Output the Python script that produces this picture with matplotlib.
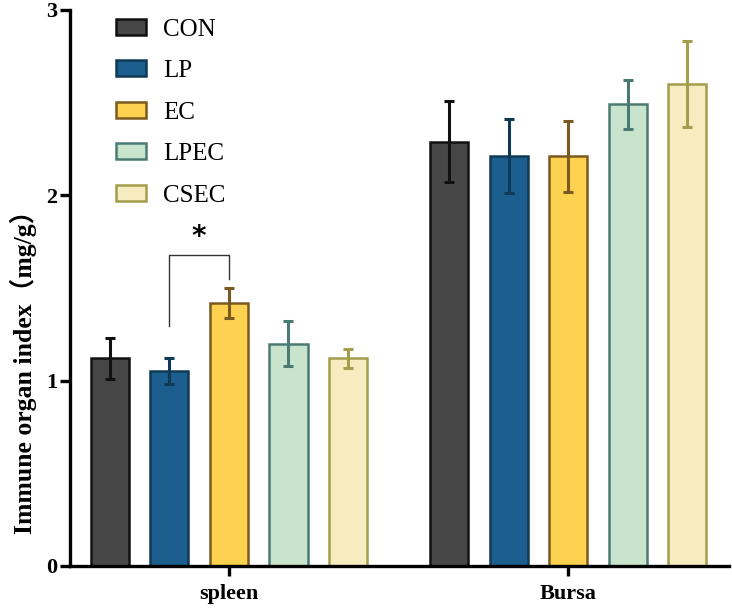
import numpy as np
import matplotlib.pyplot as plt

plt.rcParams['font.family'] = ['Liberation Serif', 'Noto Sans CJK SC']

groups = ['spleen', 'Bursa']
series = ['CON', 'LP', 'EC', 'LPEC', 'CSEC']
means = {
    'CON':  [1.12, 2.29],
    'LP':   [1.05, 2.21],
    'EC':   [1.42, 2.21],
    'LPEC': [1.20, 2.49],
    'CSEC': [1.12, 2.60],
}
errs = {
    'CON':  [0.11, 0.22],
    'LP':   [0.07, 0.20],
    'EC':   [0.08, 0.19],
    'LPEC': [0.12, 0.13],
    'CSEC': [0.05, 0.23],
}
fills = ['#474747', '#1c5f8f', '#fdd250', '#c8e4cc', '#f7ecc0']
edges = ['#111111', '#0e3a55', '#7a5a1f', '#4a7a73', '#a39d4c']

fig = plt.figure(figsize=(7.32, 6.12), dpi=100)
ax = fig.add_axes([0.0956, 0.0752, 0.9004, 0.9085])

gap = 5.7
centers = np.arange(len(groups)) * gap
step = 1.0
w = 0.64
for i, s in enumerate(series):
    x = centers + (i - 2) * step
    ax.bar(x, means[s], width=w, color=fills[i], edgecolor=edges[i],
           linewidth=1.8, label=s, zorder=2)
    ax.errorbar(x, means[s], yerr=errs[s], fmt='none', ecolor=edges[i],
                elinewidth=2.2, capsize=3.8, capthick=2.2, zorder=3)

# significance bracket LP vs EC in spleen
x_lp = centers[0] - step
x_ec = centers[0]
ax.plot([x_lp, x_lp, x_ec, x_ec], [1.295, 1.68, 1.68, 1.55], color='#333333', lw=1.0)
ax.text((x_lp + x_ec) / 2, 1.70, '*', ha='center', va='bottom',
        fontsize=20, fontweight='bold', family='DejaVu Sans')

ax.set_xlim(centers[0] - 2.67, centers[1] + 2.7)
ax.set_ylim(0, 3)
ax.set_yticks([0, 1, 2, 3])
ax.set_xticks(centers)
ax.set_xticklabels(groups, fontsize=16, fontweight='bold')
for lab in ax.get_yticklabels():
    lab.set_fontsize(16)
    lab.set_fontweight('bold')
ax.set_ylabel('Immune organ index（mg/g）', fontsize=18.5, fontweight='bold')
ax.yaxis.set_label_coords(-0.05, 0.36)

for sp in ['top', 'right']:
    ax.spines[sp].set_visible(False)
for sp in ['left', 'bottom']:
    ax.spines[sp].set_linewidth(2.4)
ax.tick_params(axis='both', width=2.4, length=7, pad=2)
ax.tick_params(axis='x', pad=6)

ax.legend(loc='upper left', bbox_to_anchor=(0.035, 1.025), frameon=False, fontsize=18,
          handlelength=1.2, handleheight=0.6, labelspacing=0.78, handletextpad=0.7)

fig.savefig('out.png', dpi=100)
